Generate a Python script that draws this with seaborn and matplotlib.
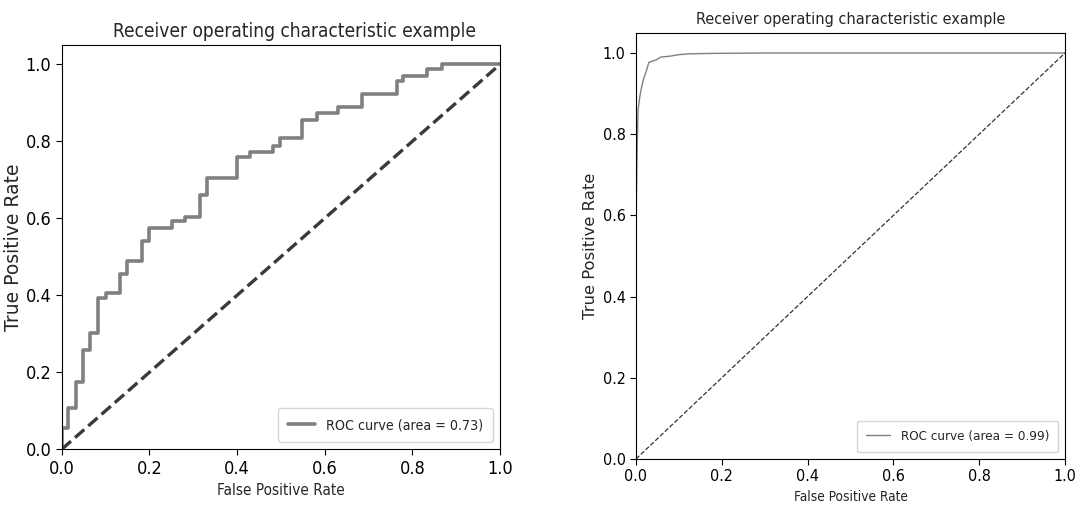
import numpy as np
import seaborn as sns
import matplotlib.pyplot as plt

# left panel: step ROC curve (x where each rise happens, level after the rise)
step_fpr_a = [0.0, 0.015, 0.033, 0.049, 0.065, 0.082, 0.100, 0.133, 0.148, 0.183,
              0.199, 0.251, 0.281, 0.316, 0.332, 0.399, 0.430, 0.483, 0.498, 0.548,
              0.582, 0.631, 0.684, 0.764, 0.779, 0.833, 0.867]
step_tpr_a = [0.056, 0.107, 0.174, 0.257, 0.303, 0.392, 0.405, 0.455, 0.489, 0.542,
              0.574, 0.592, 0.603, 0.660, 0.705, 0.760, 0.773, 0.789, 0.808, 0.855,
              0.873, 0.889, 0.922, 0.957, 0.970, 0.988, 1.0]
auc_a = 0.73

# right panel: smooth ROC curve
fpr_b = [0.0, 0.0, 0.001, 0.003, 0.005, 0.009, 0.013, 0.017, 0.024, 0.030,
         0.047, 0.058, 0.078, 0.101, 0.124, 0.178, 0.30, 1.0]
tpr_b = [0.0, 0.45, 0.64, 0.78, 0.86, 0.893, 0.915, 0.934, 0.955, 0.977,
         0.983, 0.990, 0.992, 0.996, 0.998, 0.999, 1.0, 1.0]
auc_b = 0.99

ticks = [0.0, 0.2, 0.4, 0.6, 0.8, 1.0]
tick_labels = ['0.0', '0.2', '0.4', '0.6', '0.8', '1.0']

sns.set_style('ticks')
plt.rcParams['font.family'] = ['DejaVu Sans']
plt.rcParams['font.stretch'] = 'condensed'
plt.rcParams['axes.edgecolor'] = 'black'
plt.rcParams['xtick.color'] = 'black'
plt.rcParams['ytick.color'] = 'black'
plt.rcParams['xtick.major.size'] = 4
plt.rcParams['ytick.major.size'] = 4


def corners(xs, ys):
    # turn rise positions into the vertex list of a step curve
    px, py = [xs[0]], [0.0]
    for i in range(len(xs)):
        px.append(xs[i])
        py.append(ys[i])
        nx = xs[i + 1] if i + 1 < len(xs) else 1.0
        px.append(nx)
        py.append(ys[i])
    return px, py


fig = plt.figure(figsize=(10.75, 5.07), dpi=100)
ax1 = fig.add_axes([0.0574, 0.1138, 0.4078, 0.7974])
ax2 = fig.add_axes([0.5916, 0.0947, 0.3991, 0.8408])

# left
xa, ya = corners(step_fpr_a, step_tpr_a)
sns.lineplot(x=xa, y=ya, sort=False, estimator=None, ax=ax1, color='#808080',
             lw=2.6, label='ROC curve (area = %0.2f)' % auc_a)
sns.lineplot(x=[0, 1], y=[0, 1], ax=ax1, color='#3a3a3a', lw=2.4, linestyle='--')
ax1.set_xlim(0, 1)
ax1.set_ylim(0, 1.05)
ax1.set_xticks(ticks)
ax1.set_yticks(ticks)
ax1.set_xticklabels(tick_labels, fontsize=13)
ax1.set_yticklabels(tick_labels, fontsize=13)
ax1.set_xlabel('False Positive Rate', fontsize=11)
ax1.set_ylabel('True Positive Rate', fontsize=13.5, stretch='normal', labelpad=2)
ax1.set_title('Receiver operating characteristic example', fontsize=13.7, pad=6, x=0.532)
ax1.legend(loc='lower right', prop={'size': 10.2, 'stretch': 'condensed'},
           handlelength=1.9, borderpad=0.7)

# right
sns.lineplot(x=fpr_b, y=tpr_b, sort=False, estimator=None, ax=ax2, color='#808080',
             lw=1.0, label='ROC curve (area = %0.2f)' % auc_b)
sns.lineplot(x=[0, 1], y=[0, 1], ax=ax2, color='#333333', lw=0.9, linestyle='--')
ax2.set_xlim(0, 1)
ax2.set_ylim(0, 1.05)
ax2.set_xticks(ticks)
ax2.set_yticks(ticks)
ax2.set_xticklabels(tick_labels, fontsize=11.5)
ax2.set_yticklabels(tick_labels, fontsize=11.5)
ax2.set_xlabel('False Positive Rate', fontsize=9.8)
ax2.set_ylabel('True Positive Rate', fontsize=11.8, stretch='normal', labelpad=3)
ax2.set_title('Receiver operating characteristic example', fontsize=11.6, pad=6)
ax2.legend(loc='lower right', prop={'size': 9.6, 'stretch': 'condensed'},
           handlelength=1.8, borderpad=0.7)

plt.savefig('out.png', dpi=100)
plt.close()
